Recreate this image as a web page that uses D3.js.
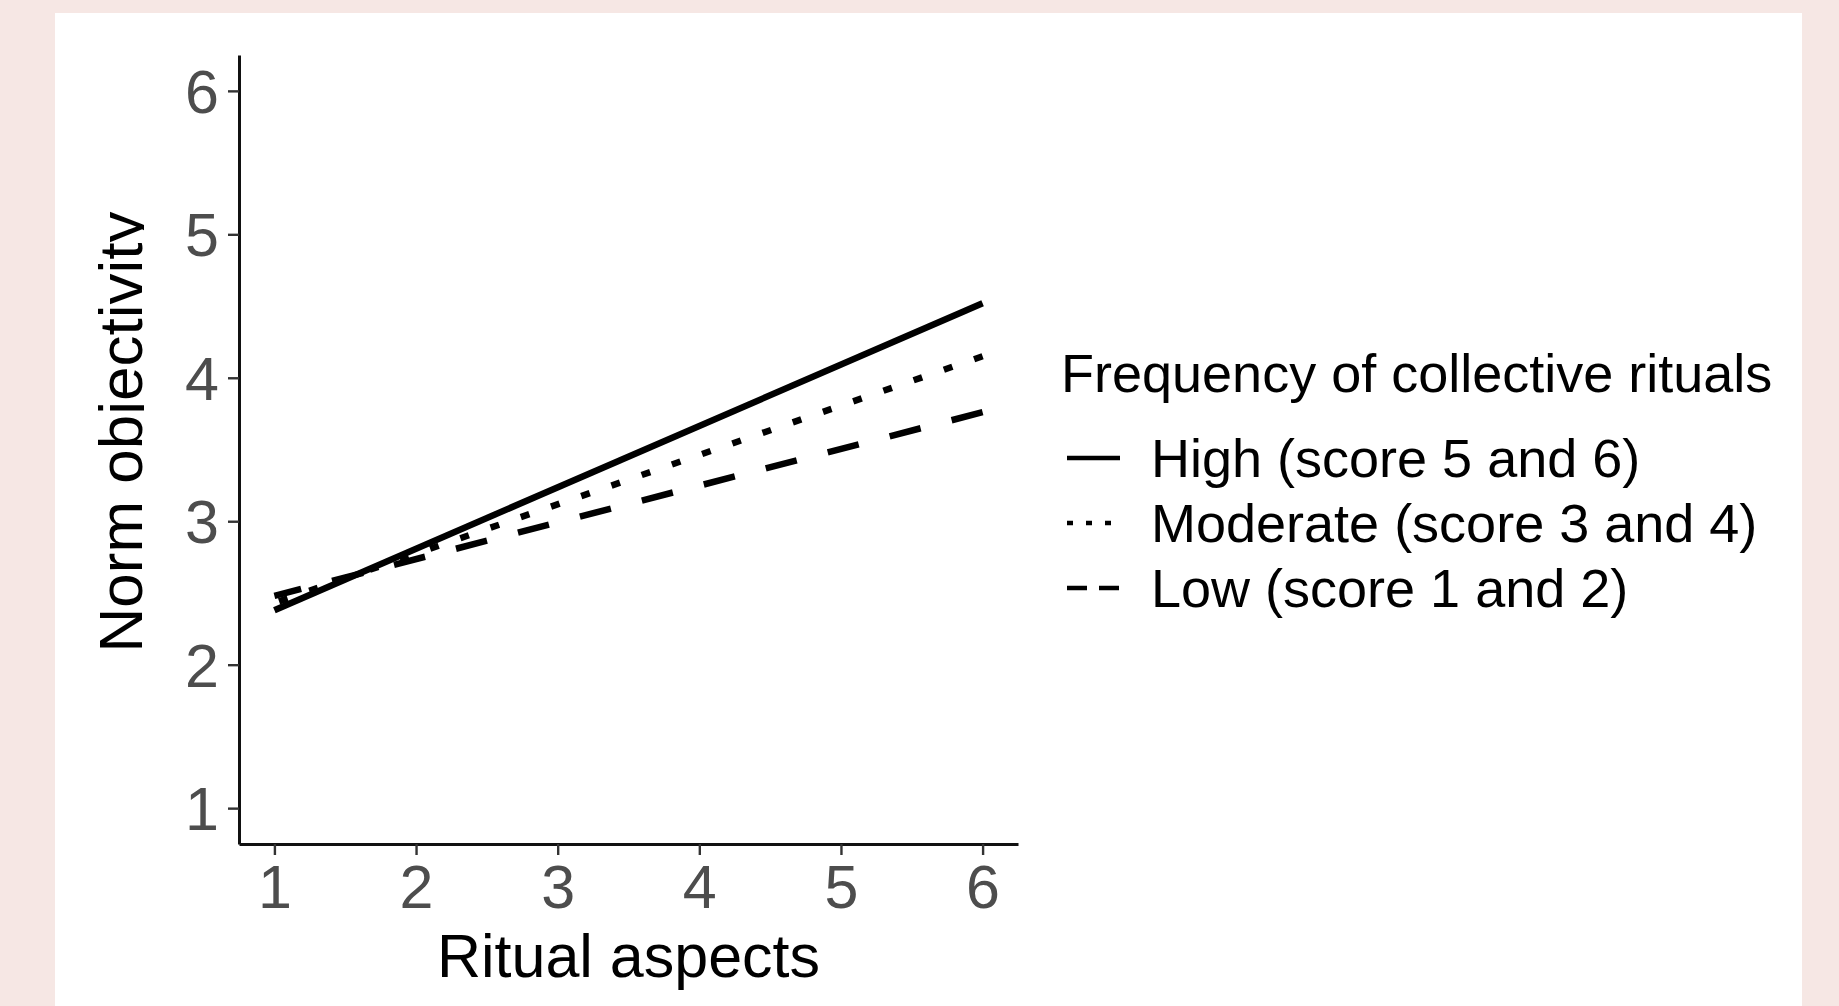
<!DOCTYPE html>
<html>
<head>
<meta charset="utf-8">
<script src="https://cdn.jsdelivr.net/npm/d3@7"></script>
<style>
  html, body { margin: 0; padding: 0; background: #f6e7e4; }
  svg { display: block; }
  text { font-family: 'Liberation Sans', Arial, sans-serif; }
</style>
</head>
<body>
<figure id="chart" style="margin:0"></figure>
<script>
// ritual aspects (x) at the two ends of each fitted line
const ritualAspects = [1, 6];
const highValues = [2.38, 4.52];
const moderateValues = [2.43, 4.15];
const lowValues = [2.48, 3.76];

const xTicks = [1, 2, 3, 4, 5, 6];
const yTicks = [1, 2, 3, 4, 5, 6];

const seriesNames = ['High (score 5 and 6)', 'Moderate (score 3 and 4)', 'Low (score 1 and 2)'];
const legendTitle = 'Frequency of collective rituals';

const width = 1839;
const height = 1006;

const svg = d3.select('figure#chart').append('svg')
  .attr('width', width)
  .attr('height', height);

// white card on the pink page
svg.append('rect')
  .attr('x', 55).attr('y', 13)
  .attr('width', 1747).attr('height', height - 13)
  .attr('fill', '#ffffff');

const x = d3.scaleLinear().domain([0.75, 6.25]).range([239, 1018]);
const y = d3.scaleLinear().domain([0.75, 6.25]).range([844, 55]);

// axes, ggplot classic look
const xAxis = svg.append('g')
  .attr('transform', 'translate(0,844)')
  .call(d3.axisBottom(x).tickValues(xTicks).tickSizeInner(11).tickSizeOuter(0).tickPadding(6).tickFormat(d3.format('d')));
const yAxis = svg.append('g')
  .attr('transform', 'translate(239,0)')
  .call(d3.axisLeft(y).tickValues(yTicks).tickSizeInner(11).tickSizeOuter(0).tickPadding(9).tickFormat(d3.format('d')));

[xAxis, yAxis].forEach(function (ax) {
  ax.select('.domain').attr('stroke', '#111').attr('stroke-width', 3);
  ax.selectAll('.tick line').attr('stroke', '#333').attr('stroke-width', 2.4);
  ax.selectAll('.tick text')
    .attr('fill', '#4d4d4d')
    .style('font-size', '61px')
    .style('font-family', "'Liberation Sans', Arial, sans-serif");
});
xAxis.selectAll('.tick text').attr('dy', null).attr('y', 64);
yAxis.selectAll('.tick text').attr('dy', '0.35em');

// x title
svg.append('text')
  .attr('x', (x.range()[0] + x.range()[1]) / 2)
  .attr('y', 977)
  .attr('text-anchor', 'middle')
  .style('font-size', '61px')
  .attr('fill', '#000')
  .text('Ritual aspects');

// y title, descenders cut off like in the source image
svg.append('clipPath').attr('id', 'ytitle-clip')
  .append('rect').attr('x', 60).attr('y', 150).attr('width', 84).attr('height', 560);
svg.append('g')
  .attr('clip-path', 'url(#ytitle-clip)')
  .append('text')
  .attr('transform', 'translate(142,432) rotate(-90)')
  .attr('text-anchor', 'middle')
  .style('font-size', '62px')
  .attr('fill', '#000')
  .text('Norm objectivity');

const series = [
  { name: seriesNames[0], values: highValues, dash: null, keyDash: null },
  { name: seriesNames[1], values: moderateValues, dash: '9,23', keyDash: '6,13' },
  { name: seriesNames[2], values: lowValues, dash: '32,32', keyDash: '20,12' }
];

const line = d3.line()
  .x(function (d) { return x(d[0]); })
  .y(function (d) { return y(d[1]); });

// draw from the right end so the dash pattern lands like the original
series.slice().reverse().forEach(function (s) {
  const pts = ritualAspects.map(function (v, i) { return [v, s.values[i]]; }).reverse();
  svg.append('path')
    .attr('d', line(pts))
    .attr('fill', 'none')
    .attr('stroke', '#000')
    .attr('stroke-width', 6.5)
    .attr('stroke-linecap', 'butt')
    .attr('stroke-dasharray', s.dash);
});

// legend
const legend = svg.append('g');
legend.append('text')
  .attr('x', 1061).attr('y', 392)
  .style('font-size', '54px')
  .attr('fill', '#000')
  .text(legendTitle);

series.forEach(function (s, i) {
  const base = 477 + i * 65;
  legend.append('line')
    .attr('x1', 1067).attr('x2', 1120)
    .attr('y1', base - 19).attr('y2', base - 19)
    .attr('stroke', '#000')
    .attr('stroke-width', 4.5)
    .attr('stroke-dasharray', s.keyDash);
  legend.append('text')
    .attr('x', 1151).attr('y', base)
    .style('font-size', '54px')
    .attr('fill', '#000')
    .text(s.name);
});
</script>
</body>
</html>
